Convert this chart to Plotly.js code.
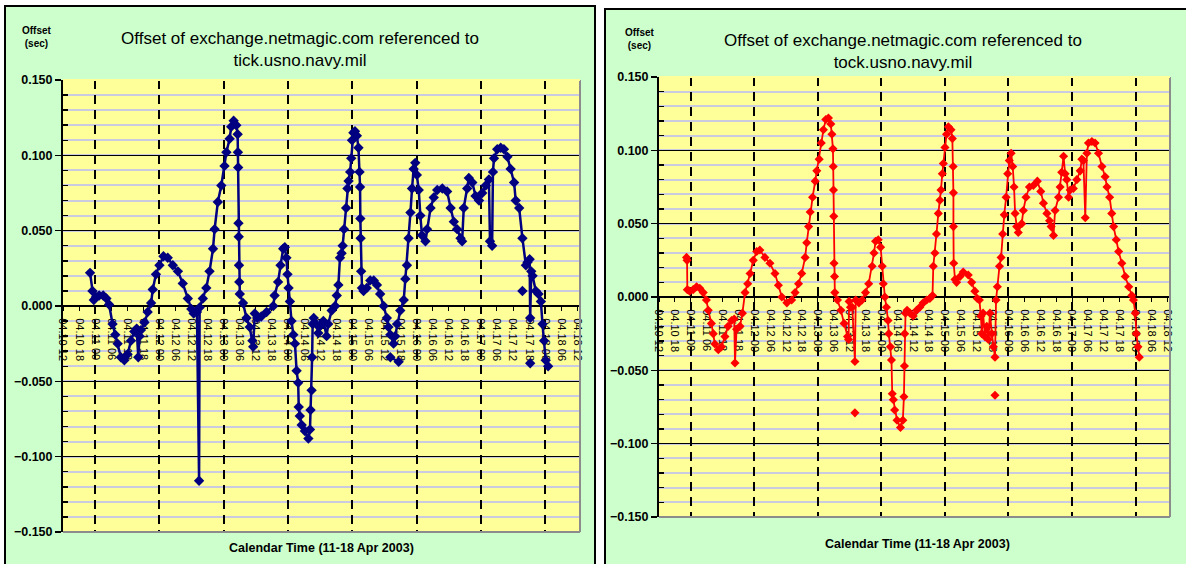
<!DOCTYPE html>
<html>
<head>
<meta charset="utf-8">
<script src="https://cdn.plot.ly/plotly-3.0.1.min.js"></script>
<style>
  html, body { margin: 0; padding: 0; background: #ffffff; width: 1186px; height: 564px; overflow: hidden; }
  .panel { position: absolute; box-sizing: border-box; border: 2px solid #000; background: #CCFFCC; }
  #left { left: 4px; top: 5px; width: 592px; height: 575px; }
  #right { left: 604px; top: 8px; width: 592px; height: 575px; }
</style>
</head>
<body>
<div id="left" class="panel"></div>
<div id="right" class="panel"></div>
<script>
// Time axis: hours after 2003-04-10 12:00
const tickLabels = ['04.10 12','04.10 18','04.11 00','04.11 06','04.11 12','04.11 18',
  '04.12 00','04.12 06','04.12 12','04.12 18','04.13 00','04.13 06','04.13 12','04.13 18',
  '04.14 00','04.14 06','04.14 12','04.14 18','04.15 00','04.15 06','04.15 12','04.15 18',
  '04.16 00','04.16 06','04.16 12','04.16 18','04.17 00','04.17 06','04.17 12','04.17 18',
  '04.18 00','04.18 06','04.18 12'];
const midnightLabels = ['04.11 00','04.12 00','04.13 00','04.14 00','04.15 00','04.16 00','04.17 00','04.18 00'];

// tick.usno.navy.mil (blue)
const tickHours = [10.1,11.0,11.5,12.3,13.5,15.0,16.2,17.2,18.5,19.5,20.4,21.6,22.9,24.1,25.4,26.6,27.5,28.1,28.6,29.1,
  30.4,31.6,32.9,33.5,34.7,36.0,37.5,39.1,41.0,42.9,44.7,46.6,47.9,48.8,50.0,50.8,51.0,52.2,53.5,54.7,
  56.0,56.6,57.8,59.1,60.3,61.0,62.2,62.8,63.7,64.7,65.2,65.3,65.4,65.5,65.6,65.7,65.8,66.0,67.2,68.5,
  69.7,70.7,71.0,71.6,72.5,74.0,76.0,78.5,79.0,80.3,81.2,82.2,82.8,83.4,83.8,84.2,84.7,85.3,86.0,86.6,
  87.2,87.8,88.0,88.4,89.1,90.3,91.6,92.2,92.4,92.8,93.0,93.2,93.6,94.5,95.3,96.2,97.2,98.4,99.0,100.3,
  101.6,102.2,102.8,103.4,104.0,104.4,104.9,105.7,106.2,106.6,107.2,107.6,107.9,108.4,109.0,109.7,110.3,110.7,110.9,111.0,
  111.1,111.3,111.6,112.2,113.4,114.7,116.0,117.2,118.4,119.7,120.9,121.5,122.2,123.4,124.0,124.7,125.9,127.2,127.8,128.4,
  129.0,129.7,130.3,130.9,131.5,132.1,132.8,133.4,134.0,135.3,135.9,137.2,138.4,139.7,141.6,143.4,144.7,145.9,147.1,148.4,
  149.0,149.6,150.9,151.5,152.8,154.0,155.3,156.5,157.8,159.0,159.4,160.2,160.5,160.9,162.1,163.4,164.6,165.9,167.1,168.4,
  169.0,170.3,171.5,172.8,173.4,174.2,174.4,174.8,175.3,176.5,177.5,178.4,179.0,179.6,180.2,181.1];
const tickOffset = [0.022,0.010,0.004,0.006,0.007,0.007,0.005,0.001,-0.012,-0.019,-0.025,-0.034,-0.036,-0.032,-0.023,-0.017,-0.015,-0.034,-0.020,-0.016,
  -0.011,-0.004,0.002,0.011,0.021,0.027,0.033,0.032,0.027,0.023,0.015,0.005,-0.002,-0.005,-0.004,-0.116,-0.001,0.005,0.012,0.023,
  0.038,0.051,0.069,0.080,0.093,0.102,0.111,0.119,0.123,0.120,0.114,0.102,0.092,0.055,0.046,0.027,0.016,0.008,0.002,-0.008,
  -0.014,-0.023,-0.027,-0.005,-0.008,-0.007,-0.004,0.000,0.007,0.016,0.027,0.038,0.039,0.032,0.021,0.012,0.003,-0.010,-0.019,-0.025,
  -0.043,-0.051,-0.067,-0.073,-0.079,-0.083,-0.088,-0.082,-0.069,-0.056,-0.034,-0.012,-0.008,-0.012,-0.018,-0.013,-0.010,-0.020,-0.012,-0.003,
  0.000,0.007,0.014,0.032,0.035,0.040,0.051,0.065,0.078,0.083,0.089,0.098,0.110,0.115,0.116,0.113,0.105,0.089,0.079,0.058,
  0.045,0.023,0.012,0.010,0.012,0.017,0.017,0.014,0.008,0.000,-0.008,-0.014,-0.019,-0.025,-0.020,-0.012,-0.003,0.004,0.018,0.027,
  0.045,0.062,0.078,0.091,0.095,0.087,0.077,0.060,0.047,0.043,0.051,0.065,0.072,0.077,0.078,0.076,0.065,0.056,0.051,0.045,
  0.043,0.065,0.078,0.085,0.082,0.073,0.070,0.075,0.080,0.084,0.043,0.040,0.089,0.098,0.104,0.105,0.104,0.099,0.091,0.082,
  0.070,0.065,0.045,0.027,0.029,0.031,-0.008,0.023,0.020,0.010,0.008,0.003,-0.012,-0.023,-0.036,-0.040];
// stray readings (null = gap)
const tickStrayHours = [122.2,125.3,null,171.5,null,174.4];
const tickStrayOffset = [-0.034,-0.037,null,0.010,null,-0.038];

// tock.usno.navy.mil (red)
const tockHours = [10.4,10.6,10.7,11.6,12.9,14.2,15.4,16.7,17.9,18.6,19.8,20.5,21.1,22.4,23.6,24.9,26.1,27.4,28.4,28.7,
  29.3,30.6,31.5,32.5,33.5,34.4,35.6,36.9,38.1,40.0,41.9,43.8,45.1,46.4,48.3,50.1,51.4,52.7,53.9,55.2,
  55.8,56.5,57.1,58.0,59.0,59.6,60.5,61.3,62.1,63.0,64.0,64.9,65.3,65.7,65.8,65.9,66.0,66.1,66.3,66.4,
  67.4,68.7,69.9,71.2,71.6,71.8,72.3,73.0,74.0,74.3,75.5,76.7,78.0,79.2,80.5,81.2,81.8,82.8,83.7,84.3,
  84.7,85.3,85.9,86.5,86.8,87.4,87.8,88.1,88.5,89.0,89.9,91.2,92.1,92.5,92.7,92.8,93.1,93.7,94.8,96.0,
  97.3,98.5,99.8,101.1,102.3,103.3,103.6,104.2,104.8,105.5,106.1,106.5,107.0,107.4,108.0,108.6,109.3,110.3,110.8,111.1,
  111.2,111.2,111.3,111.8,112.4,113.7,114.9,116.8,118.1,119.3,120.2,121.0,121.6,121.9,122.4,123.1,123.8,124.4,125.0,125.7,
  126.3,126.9,127.3,127.8,128.6,129.2,129.8,130.4,131.1,131.7,132.3,133.0,133.6,134.1,134.5,135.1,135.7,137.0,137.6,138.6,
  139.9,141.4,142.9,144.2,145.2,146.5,147.5,148.1,149.0,149.6,150.9,151.5,152.1,152.8,153.4,154.0,154.7,155.3,156.5,157.8,
  159.1,159.7,160.3,161.0,161.6,162.2,163.5,164.7,166.0,167.3,168.5,169.2,170.2,171.0,171.7,172.7,173.6,174.8,176.1,177.4,
  178.6,179.2,179.9,180.3,180.9,181.4];
const tockOffset = [0.027,0.025,0.005,0.004,0.005,0.007,0.006,0.003,-0.002,-0.009,-0.018,-0.025,-0.032,-0.036,-0.034,-0.027,-0.020,-0.016,-0.015,-0.045,
  -0.022,-0.020,-0.011,0.003,0.009,0.016,0.025,0.031,0.032,0.027,0.023,0.016,0.008,0.000,-0.004,-0.002,0.003,0.009,0.016,0.027,
  0.037,0.048,0.058,0.068,0.079,0.086,0.094,0.105,0.114,0.121,0.122,0.118,0.111,0.101,0.089,0.073,0.055,0.023,0.014,0.003,
  -0.002,-0.009,-0.018,-0.027,-0.029,-0.003,-0.007,-0.007,-0.044,-0.002,-0.004,-0.002,0.003,0.009,0.021,0.030,0.038,0.039,0.034,0.021,
  0.009,0.000,-0.007,-0.016,-0.025,-0.034,-0.043,-0.066,-0.070,-0.077,-0.084,-0.089,-0.084,-0.068,-0.047,-0.025,-0.011,-0.009,-0.011,-0.013,
  -0.009,-0.007,-0.004,-0.002,-0.001,0.001,0.021,0.030,0.043,0.057,0.066,0.073,0.084,0.091,0.102,0.111,0.116,0.114,0.108,0.089,
  0.071,0.048,0.023,0.012,0.010,0.014,0.017,0.015,0.010,0.004,-0.001,-0.002,-0.013,-0.025,-0.011,-0.027,-0.020,-0.029,-0.011,-0.025,
  -0.034,-0.041,-0.002,0.007,0.021,0.027,0.043,0.056,0.068,0.084,0.093,0.098,0.089,0.075,0.057,0.048,0.044,0.050,0.059,0.068,
  0.075,0.076,0.079,0.072,0.064,0.057,0.052,0.048,0.042,0.059,0.068,0.075,0.085,0.096,0.084,0.080,0.068,0.073,0.074,0.080,
  0.086,0.094,0.093,0.054,0.098,0.105,0.106,0.105,0.098,0.089,0.082,0.075,0.068,0.057,0.048,0.039,0.031,0.023,0.014,0.007,
  0.001,-0.002,-0.011,-0.025,-0.034,-0.041];
const tockStrayHours = [74.0,null,126.9];
const tockStrayOffset = [-0.079,null,-0.067];

const FONT = 'Liberation Sans, Arial, sans-serif';

function hourOf(label) {
  // label 'MM.DD HH' -> hours after 04.10 12
  const d = parseInt(label.slice(3,5),10), h = parseInt(label.slice(6,8),10);
  return (d - 10) * 24 + h - 12;
}

function build(divId, opts) {
  const traces = [
    { x: opts.hours, y: opts.offset, type: 'scatter', mode: 'lines+markers',
      line: { color: opts.color, width: opts.lw },
      marker: { symbol: 'diamond', size: opts.ms, color: opts.color },
      hoverinfo: 'skip' },
    { x: opts.strayHours, y: opts.strayOffset, type: 'scatter', mode: 'lines+markers',
      connectgaps: false,
      line: { color: opts.color, width: opts.lw },
      marker: { symbol: 'diamond', size: opts.ms, color: opts.color },
      hoverinfo: 'skip' },
    { x: [], y: [], xaxis: 'x2', yaxis: 'y', type: 'scatter', mode: 'markers', hoverinfo: 'skip' }
  ];
  const layout = {
    width: opts.w, height: opts.h,
    margin: opts.margin,
    paper_bgcolor: '#CCFFCC', plot_bgcolor: '#FFFF99',
    showlegend: false,
    font: { family: FONT, color: '#000' },
    title: { text: opts.title, x: opts.titleX, xref: 'container', y: opts.titleY, yref: 'container',
             xanchor: 'center', yanchor: 'middle', font: { family: FONT, size: 17, color: '#000' } },
    xaxis: {
      range: [0, 193], anchor: 'free', position: 0.5,
      tickvals: tickLabels.map(hourOf), ticktext: tickLabels,
      tickangle: 90, tickfont: { family: FONT, size: 11, color: '#000' },
      ticks: 'outside', ticklen: 4, tickcolor: '#000', ticklabelstandoff: 5,
      showgrid: false, zeroline: false,
      showline: true, linecolor: '#000', linewidth: 2,
      layer: 'below traces', fixedrange: true
    },
    xaxis2: {
      overlaying: 'x', range: [0, 193], anchor: 'y',
      tickvals: midnightLabels.map(hourOf), showticklabels: false, ticks: '',
      showgrid: true, gridcolor: '#000', gridwidth: 2, griddash: '9px,6px',
      zeroline: false, showline: false, fixedrange: true
    },
    yaxis: {
      range: [-0.15, 0.15], dtick: 0.05, tick0: 0, tickformat: '.3f',
      tickfont: { family: FONT, size: 12.5, color: '#000', weight: 'bold' },
      ticks: 'outside', ticklen: 6, tickwidth: 1.5, tickcolor: '#000',
      showgrid: true, gridcolor: '#000', gridwidth: 1.5,
      minor: { dtick: 0.01, showgrid: true, gridcolor: '#CACAE0', gridwidth: 2,
               ticks: 'inside', ticklen: 5, tickcolor: '#000' },
      zeroline: false, showline: true, linecolor: '#000', linewidth: 2,
      fixedrange: true
    },
    shapes: [
      { type: 'line', xref: 'paper', yref: 'paper', x0: 1, x1: 1, y0: 0, y1: 1, line: { color: '#8C8C8C', width: 2 } },
      { type: 'line', xref: 'paper', yref: 'paper', x0: 0, x1: 1, y0: 0, y1: 0, line: { color: '#8C8C8C', width: 2 } },
      { type: 'line', xref: 'paper', yref: 'paper', x0: 0, x1: 1, y0: 1, y1: 1, line: { color: '#FFFF99', width: 2 } }
    ],
    annotations: [
      { text: '<b>Offset</b><br><b>(sec)</b>', xref: 'paper', yref: 'paper', x: opts.unitX, y: opts.unitY,
        xanchor: 'center', yanchor: 'middle', showarrow: false, font: { family: FONT, size: 10, color: '#000' } },
      { text: '<b>Calendar Time (11-18 Apr 2003)</b>', xref: 'paper', yref: 'paper', x: opts.xtX, y: opts.xtY,
        xanchor: 'center', yanchor: 'middle', showarrow: false, font: { family: FONT, size: 12.5, color: '#000' } }
    ]
  };
  Plotly.newPlot(divId, traces, layout, { staticPlot: true, displayModeBar: false });
}

build('left', {
  hours: tickHours, offset: tickOffset, strayHours: tickStrayHours, strayOffset: tickStrayOffset,
  color: '#000080', lw: 2.5, ms: 8,
  w: 588, h: 571, margin: { l: 57, r: 14, t: 72.5, b: 46, pad: 0 },
  title: 'Offset of exchange.netmagic.com referenced to<br>tick.usno.navy.mil',
  titleX: 0.5, titleY: 1 - 37 / 571,
  unitX: -0.05, unitY: 1.096, xtX: 0.5, xtY: -0.036
});

build('right', {
  hours: tockHours, offset: tockOffset, strayHours: tockStrayHours, strayOffset: tockStrayOffset,
  color: '#FF0000', lw: 1.8, ms: 7,
  w: 588, h: 571, margin: { l: 53, r: 24, t: 66.5, b: 63.5, pad: 0 },
  title: 'Offset of exchange.netmagic.com referenced to<br>tock.usno.navy.mil',
  titleX: 0.505, titleY: 1 - 36 / 571,
  unitX: -0.038, unitY: 1.087, xtX: 0.505, xtY: -0.062
});
</script>
</body>
</html>
